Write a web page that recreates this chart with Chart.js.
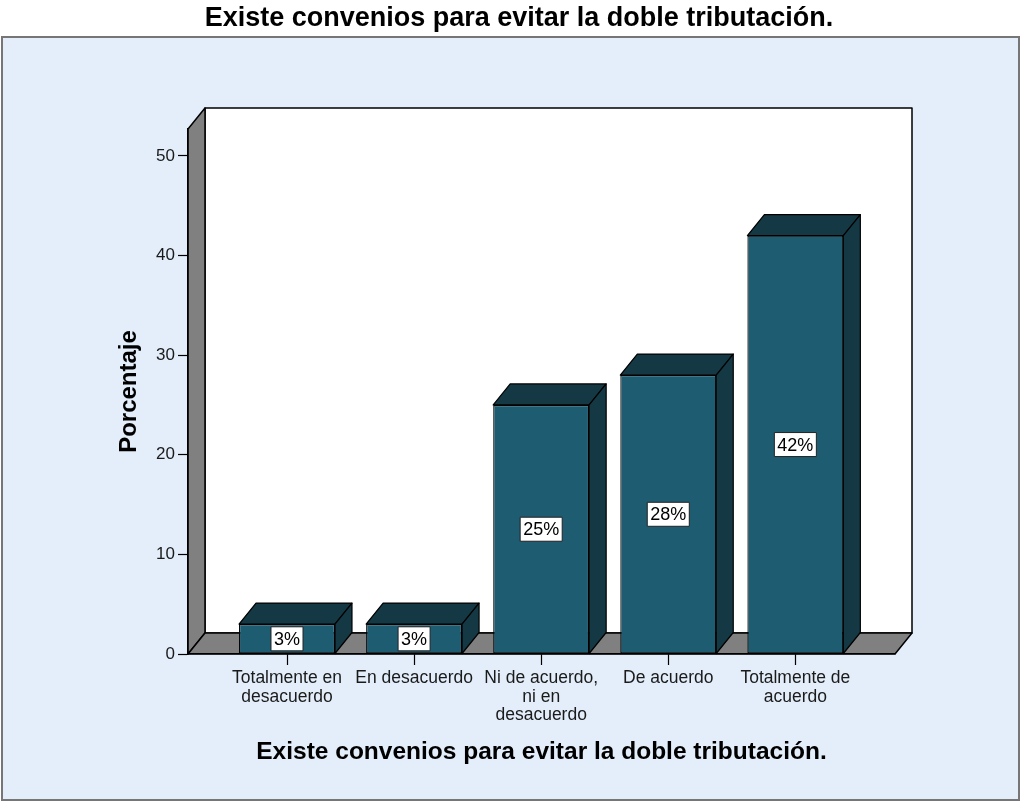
<!DOCTYPE html>
<html>
<head>
<meta charset="utf-8">
<script src="https://cdn.jsdelivr.net/npm/chart.js@4/dist/chart.umd.min.js"></script>
<style>
  html, body { margin: 0; padding: 0; background: #fff; }
  canvas { display: block; }
</style>
</head>
<body>
<canvas id="chart" width="1021" height="802"></canvas>
<script>
const chartTitle = 'Existe convenios para evitar la doble tributación.';
const yTitle = 'Porcentaje';
const categories = [
  ['Totalmente en', 'desacuerdo'],
  ['En desacuerdo'],
  ['Ni de acuerdo,', 'ni en', 'desacuerdo'],
  ['De acuerdo'],
  ['Totalmente de', 'acuerdo']
];
const percentages = [3, 3, 25, 28, 42];
const yTicks = [0, 10, 20, 30, 40, 50];
const yMax = 52.7;
// category positions 1..5, with some floor left and right of the bars
const xMin = 0.221;
const xMax = 5.784;

const FONT = '"Liberation Sans", Arial, sans-serif';
const DX = 17, DY = -21;          // depth offset of the 3d box
const FRONT = '#1E5C72', DARK = '#143844', WALL = '#808080';

function poly(ctx, pts, fill) {
  ctx.beginPath();
  ctx.moveTo(pts[0][0], pts[0][1]);
  for (let i = 1; i < pts.length; i++) ctx.lineTo(pts[i][0], pts[i][1]);
  ctx.closePath();
  ctx.fillStyle = fill;
  ctx.fill();
  ctx.stroke();
}

// frame, back wall, left wall and floor
const box3d = {
  id: 'box3d',
  beforeDraw(chart) {
    const ctx = chart.ctx;
    const { left, right, top, bottom } = chart.chartArea;
    ctx.save();
    ctx.fillStyle = '#E3EEFA';
    ctx.fillRect(2, 37, 1017, 763);
    ctx.strokeStyle = '#767676';
    ctx.lineWidth = 2;
    ctx.strokeRect(2, 37, 1017, 763);

    ctx.strokeStyle = '#000';
    ctx.lineWidth = 1.5;
    ctx.lineJoin = 'round';
    poly(ctx, [[left + DX, top + DY], [right + DX, top + DY], [right + DX, bottom + DY], [left + DX, bottom + DY]], '#fff');
    poly(ctx, [[left, top], [left + DX, top + DY], [left + DX, bottom + DY], [left, bottom]], WALL);
    poly(ctx, [[left, bottom], [left + DX, bottom + DY], [right + DX, bottom + DY], [right, bottom]], WALL);
    ctx.restore();
  },
  afterDatasetsDraw(chart) {
    const ctx = chart.ctx;
    const meta = chart.getDatasetMeta(0);
    ctx.save();
    ctx.strokeStyle = '#000';
    ctx.lineWidth = 1.2;
    ctx.lineJoin = 'round';
    meta.data.forEach((bar) => {
      const { x, y, base, width } = bar.getProps(['x', 'y', 'base', 'width'], true);
      const l = x - width / 2, r = x + width / 2;
      poly(ctx, [[l, y], [l + DX, y + DY], [r + DX, y + DY], [r, y]], DARK);
      poly(ctx, [[r, y], [r + DX, y + DY], [r + DX, base + DY], [r, base]], DARK);
    });

    // value boxes
    ctx.font = '18px ' + FONT;
    ctx.textAlign = 'center';
    ctx.textBaseline = 'middle';
    ctx.lineWidth = 1;
    meta.data.forEach((bar, i) => {
      const { x, y, base } = bar.getProps(['x', 'y', 'base'], true);
      const text = percentages[i] + '%';
      const w = ctx.measureText(text).width + 6;
      const h = 24;
      const cy = (y + base) / 2;
      ctx.fillStyle = '#fff';
      ctx.fillRect(x - w / 2, cy - h / 2, w, h);
      ctx.strokeStyle = '#222';
      ctx.strokeRect(x - w / 2, cy - h / 2, w, h);
      ctx.fillStyle = '#000';
      ctx.fillText(text, x, cy + 1);
    });
    ctx.restore();
  }
};

new Chart(document.getElementById('chart'), {
  type: 'bar',
  data: {
    datasets: [{
      data: percentages.map((v, i) => ({ x: i + 1, y: v })),
      backgroundColor: FRONT,
      borderColor: '#000',
      borderWidth: 1.2,
      borderSkipped: false,
      categoryPercentage: 1,
      barPercentage: 0.755
    }]
  },
  options: {
    responsive: false,
    animation: false,
    devicePixelRatio: 1,
    layout: { padding: { left: 17, right: 0, top: 0, bottom: 0 } },
    plugins: {
      legend: { display: false },
      tooltip: { enabled: false },
      title: {
        display: true,
        text: chartTitle,
        color: '#000',
        font: { family: FONT, size: 27, weight: 'bold' },
        padding: { top: 2, bottom: 94.6 }
      }
    },
    scales: {
      x: {
        type: 'linear',
        min: xMin,
        max: xMax,
        bounds: 'data',
        offset: false,
        afterBuildTicks: s => { s.ticks = categories.map((_, i) => ({ value: i + 1 })); },
        afterFit: s => { s.height = 148; },
        grid: { offset: false, drawOnChartArea: false, color: '#000', tickLength: 11, tickWidth: 1.2 },
        border: { color: '#000', width: 1.2 },
        ticks: {
          autoSkip: false,
          maxRotation: 0,
          padding: 4,
          color: '#1a1a1a',
          font: { family: FONT, size: 17.5, lineHeight: 1.06 },
          callback: v => categories[v - 1]
        },
        title: {
          display: true,
          text: chartTitle,
          color: '#000',
          font: { family: FONT, size: 24.5, weight: 'bold' },
          padding: { top: 0, bottom: 35.3 }
        }
      },
      y: {
        min: 0,
        max: yMax,
        afterBuildTicks: s => { s.ticks = yTicks.map(v => ({ value: v })); },
        afterFit: s => { s.width = 171; },
        grid: { drawOnChartArea: false, color: '#000', tickLength: 10, tickWidth: 1.2 },
        border: { color: '#000', width: 1.2 },
        ticks: {
          padding: 3,
          color: '#1a1a1a',
          font: { family: FONT, size: 17 }
        },
        title: {
          display: true,
          text: yTitle,
          color: '#000',
          font: { family: FONT, size: 24, weight: 'bold' },
          padding: { top: 97.6, bottom: 0 }
        }
      },
      pad: {
        type: 'linear',
        position: 'right',
        display: true,
        grid: { display: false },
        border: { display: false },
        ticks: { display: false },
        afterFit: s => { s.width = 126; }
      }
    }
  },
  plugins: [box3d]
});
</script>
</body>
</html>
